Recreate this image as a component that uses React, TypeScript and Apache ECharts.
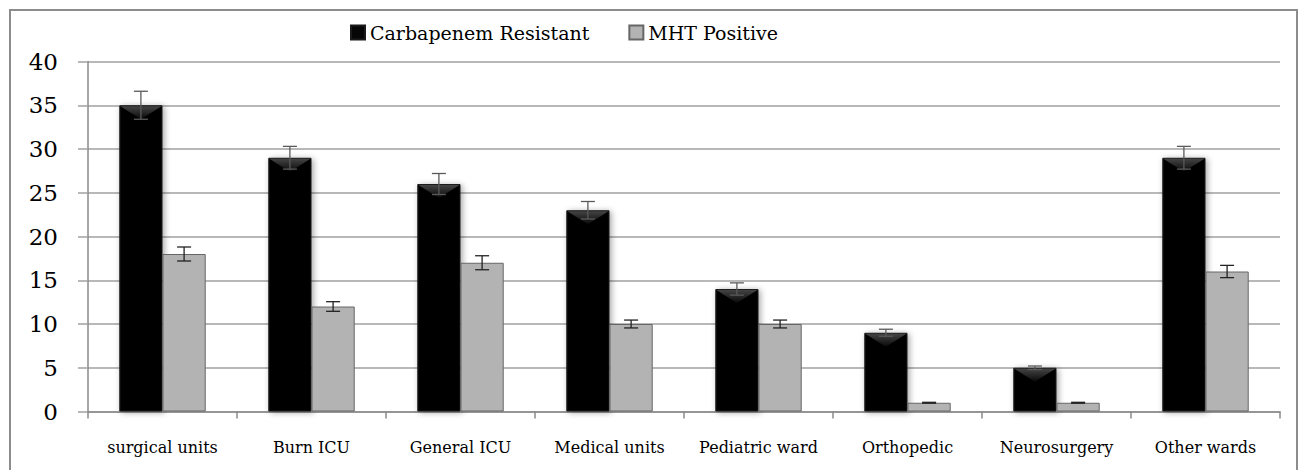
import React, { useEffect, useRef } from "react";
import * as echarts from "echarts";

const categories = [
  "surgical units",
  "Burn ICU",
  "General ICU",
  "Medical units",
  "Pediatric ward",
  "Orthopedic",
  "Neurosurgery",
  "Other wards",
];
const carbapenemResistant = [35, 29, 26, 23, 14, 9, 5, 29];
const carbapenemError = [1.6, 1.3, 1.2, 1.0, 0.7, 0.4, 0.2, 1.3];
const mhtPositive = [18, 12, 17, 10, 10, 1, 1, 16];
const mhtError = [0.8, 0.55, 0.8, 0.45, 0.45, 0.05, 0.05, 0.7];
const yTicks = { min: 0, max: 40, interval: 5 };

const FONT = "DejaVu Serif";
const CAT_GAP = 0.42;

function errorSeries(name: string, vals: number[], errs: number[], side: number, color: string) {
  return {
    name: name + " error",
    type: "custom",
    z: 5,
    silent: true,
    data: vals.map((v, i) => [i, v, errs[i]]),
    encode: { x: 0, y: 1 },
    renderItem: (params: any, api: any) => {
      const idx = api.value(0);
      const v = api.value(1);
      const e = api.value(2);
      const c = api.coord([idx, v]);
      const band = api.size([1, 0])[0];
      const bw = (band * (1 - CAT_GAP)) / 2;
      const x = c[0] + (side * bw) / 2;
      const yt = api.coord([idx, v + e])[1];
      const yb = api.coord([idx, v - e])[1];
      const cap = 7;
      const style = { stroke: color, lineWidth: 1.3 };
      return {
        type: "group",
        children: [
          { type: "line", shape: { x1: x, y1: yt, x2: x, y2: yb }, style },
          { type: "line", shape: { x1: x - cap, y1: yt, x2: x + cap, y2: yt }, style },
          { type: "line", shape: { x1: x - cap, y1: yb, x2: x + cap, y2: yb }, style },
        ],
      };
    },
  };
}

export default function App() {
  const ref = useRef<HTMLDivElement>(null);
  useEffect(() => {
    if (!ref.current) return;
    const chart = echarts.init(ref.current, null, { renderer: "svg" });
    chart.setOption({
      animation: false,
      backgroundColor: "#ffffff",
      graphic: [
        {
          type: "rect",
          shape: { x: 10, y: 10, width: 1287, height: 480 },
          style: { fill: "none", stroke: "#8c8c8c", lineWidth: 2 },
          silent: true,
        },
      ],
      legend: {
        left: 345,
        top: 18,
        itemWidth: 14,
        itemHeight: 14,
        itemGap: 39,
        icon: "rect",
        textStyle: { fontFamily: FONT, fontSize: 19, color: "#000" },
        data: ["Carbapenem Resistant", "MHT Positive"],
      },
      grid: { left: 88, right: 19, top: 61.5, bottom: 58.5 },
      xAxis: {
        type: "category",
        data: categories,
        axisLine: { show: true, lineStyle: { color: "#8a8a8a", width: 1.5 } },
        axisTick: { show: true, length: 7, interval: 0, lineStyle: { color: "#8a8a8a", width: 1.5 } },
        axisLabel: { interval: 0, margin: 28, fontFamily: FONT, fontSize: 16, color: "#000" },
        splitLine: { show: false },
      },
      yAxis: {
        type: "value",
        min: yTicks.min,
        max: yTicks.max,
        interval: yTicks.interval,
        axisLine: { show: true, lineStyle: { color: "#8a8a8a", width: 1.5 } },
        axisTick: { show: true, length: 10, lineStyle: { color: "#a0a0a0", width: 1.5 } },
        axisLabel: { margin: 30, fontFamily: FONT, fontSize: 23, color: "#000" },
        splitLine: { show: true, lineStyle: { color: "#a0a0a0", width: 1.5 } },
      },
      series: [
        {
          name: "Carbapenem Resistant",
          type: "bar",
          data: carbapenemResistant,
          barGap: "0%",
          barCategoryGap: CAT_GAP * 100 + "%",
          itemStyle: {
            color: "#060606",
            borderColor: "#1a1a1a",
            borderWidth: 1,
            shadowBlur: 6,
            shadowColor: "rgba(0,0,0,0.35)",
            shadowOffsetX: 2,
            shadowOffsetY: 1,
          },
          z: 2,
        },
        {
          name: "MHT Positive",
          type: "bar",
          data: mhtPositive,
          itemStyle: { color: "#b3b3b3", borderColor: "#666666", borderWidth: 1 },
          z: 2,
        },
        {
          name: "bevel",
          type: "custom",
          z: 3,
          silent: true,
          data: carbapenemResistant.map((v, i) => [i, v]),
          encode: { x: 0, y: 1 },
          renderItem: (params: any, api: any) => {
            const idx = api.value(0);
            const v = api.value(1);
            const c = api.coord([idx, v]);
            const band = api.size([1, 0])[0];
            const bw = (band * (1 - CAT_GAP)) / 2;
            const cx = c[0] - bw / 2;
            const top = c[1] + 1;
            return {
              type: "polygon",
              shape: {
                points: [
                  [cx - bw / 2 + 1, top],
                  [cx + bw / 2 - 1, top],
                  [cx, top + 13],
                ],
              },
              style: {
                fill: new echarts.graphic.LinearGradient(0, 0, 0, 1, [
                  { offset: 0, color: "#444444" },
                  { offset: 1, color: "#080808" },
                ]),
              },
            };
          },
        },
        errorSeries("Carbapenem Resistant", carbapenemResistant, carbapenemError, -1, "#5a5a5a"),
        errorSeries("MHT Positive", mhtPositive, mhtError, 1, "#222222"),
      ],
    });
    return () => chart.dispose();
  }, []);
  return (
    <div
      ref={ref}
      style={{ position: "absolute", left: 0, top: 0, width: 1299, height: 470 }}
    />
  );
}
